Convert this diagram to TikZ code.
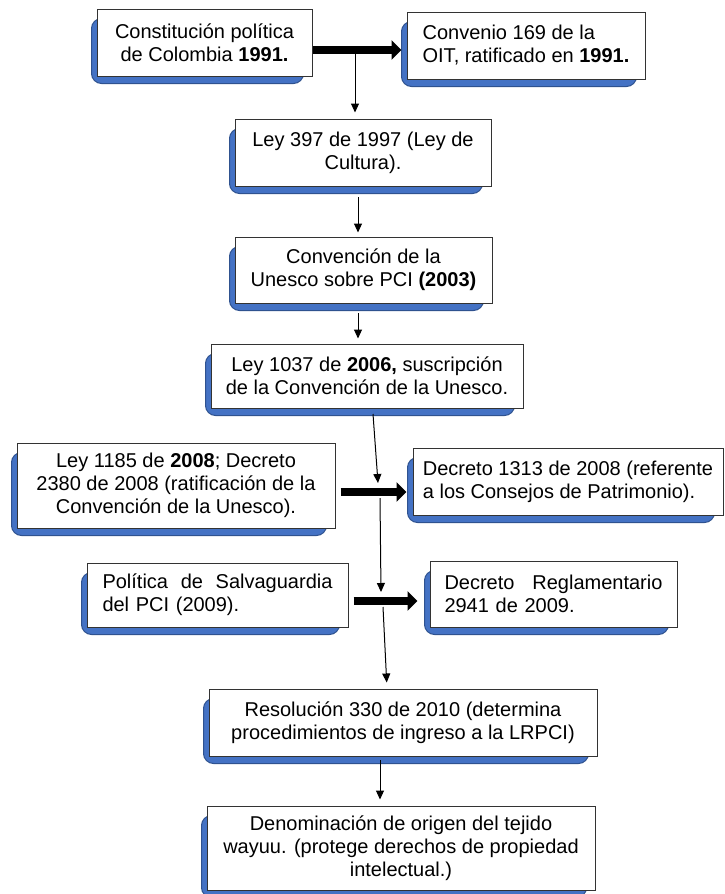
\documentclass[tikz,border=0pt]{standalone}
\usepackage{fontspec}
\setmainfont{Liberation Sans}
\usetikzlibrary{arrows.meta,calc,backgrounds}

\definecolor{sombra}{RGB}{68,114,196}
\definecolor{bordesombra}{RGB}{47,82,143}

\begin{document}
\begin{tikzpicture}[x=0.5pt,y=-0.5pt,
    caja/.style={draw=black!80, fill=white, line width=0.5pt, inner sep=0pt,
        font=\fontsize{10}{11.5}\selectfont},
    gruesa/.style={line width=3.8pt, -{Triangle[length=5pt,width=9.5pt]}},
    fina/.style={line width=0.5pt, -{Triangle[length=4.5pt,width=4pt]}}]
    \useasboundingbox (0,0) rectangle (724,894);
    \node[caja, align=center, minimum width=107.5pt, minimum height=33.5pt] (c1) at (204.5,42.5)
        {Constitución política\\de Colombia \textbf{1991.}};
    \node[caja, align=left, minimum width=119pt, minimum height=33.5pt] (c2) at (526,45.5)
        {Convenio 169 de la\\OIT, ratificado en \textbf{1991.}};
    \node[caja, align=center, minimum width=128pt, minimum height=33.5pt] (c3) at (363,152.5)
        {Ley 397 de 1997 (Ley de\\Cultura).};
    \node[caja, align=center, minimum width=128.5pt, minimum height=33pt] (c4) at (363.5,270)
        {Convención de la\\Unesco sobre PCI \textbf{(2003)}};
    \node[caja, align=center, minimum width=156pt, minimum height=32pt] (c5) at (367,376)
        {Ley 1037 de \textbf{2006,} suscripción\\de la Convención de la Unesco.};
    \node[caja, align=center, minimum width=159pt, minimum height=42.5pt] (c6) at (176,485.5)
        {Ley 1185 de \textbf{2008}; Decreto\\2380 de 2008 (ratificación de la\\Convención de la Unesco).};
    \node[caja, align=left, minimum width=155pt, minimum height=33.5pt] (c7) at (568,481.5)
        {Decreto 1313 de 2008 (referente\\a los Consejos de Patrimonio).};
    \node[caja, align=left, text width=115pt, minimum width=130.5pt, minimum height=32pt] (c8) at (217.5,595)
        {Política\hfill de\hfill Salvaguardia\\del PCI (2009).};
    \node[caja, align=left, text width=109pt, minimum width=123.5pt, minimum height=33pt] (c9) at (553.5,594)
        {Decreto\hfill Reglamentario\\2941 de 2009.};
    \node[caja, align=center, minimum width=194pt, minimum height=33.5pt] (c10) at (403,722.5)
        {Resolución 330 de 2010 (determina\\procedimientos de ingreso a la LRPCI)};
    \node[caja, align=center, minimum width=194pt, minimum height=42pt] (c11) at (401,848)
        {Denominación de origen del tejido\\wayuu. (protege derechos de propiedad\\intelectual.)};
    % sombras azules detras de las cajas
    \begin{scope}[on background layer]
        \foreach \i in {1,...,11}
            {\draw[fill=sombra, draw=bordesombra, line width=0.5pt, rounded corners=5pt]
                ($(c\i.north west)+(-5,10)$) rectangle ($(c\i.south east)+(-9,7)$);}
    \end{scope}
    \coordinate (p1) at (355,50);
    \coordinate (p2) at (358,197);
    \coordinate (p3) at (358,313);
    \coordinate (p4) at (373,414);
    \coordinate (m2) at (378,492);
    \coordinate (m3) at (381,601);
    \coordinate (p7) at (380,760);
    \draw[gruesa, shorten >=2.5pt] (c1.east |- p1) -- (c2.west |- p1);
    \draw[gruesa, shorten <=2.5pt, shorten >=3pt] (c6.east |- m2) -- (c7.west |- m2);
    \draw[gruesa, shorten <=2.5pt, shorten >=6pt] (c8.east |- m3) -- (c9.west |- m3);
    \draw[fina, shorten >=3pt] (p1) -- (p1 |- c3.north);
    \draw[fina, shorten >=2pt] (p2) -- (p2 |- c4.north);
    \draw[fina, shorten >=2.5pt] (p3) -- (p3 |- c5.north);
    \draw[fina] (p4) -- ($(m2)+(0,-9)$);
    \draw[fina] ($(m2)+(2,6)$) -- ($(m3)+(0,-9)$);
    \draw[fina, shorten >=3pt] ($(m3)+(2,6)$) -- ([xshift=-8pt]c10.north);
    \draw[fina, shorten >=3pt] (p7) -- (p7 |- c11.north);
\end{tikzpicture}
\end{document}
